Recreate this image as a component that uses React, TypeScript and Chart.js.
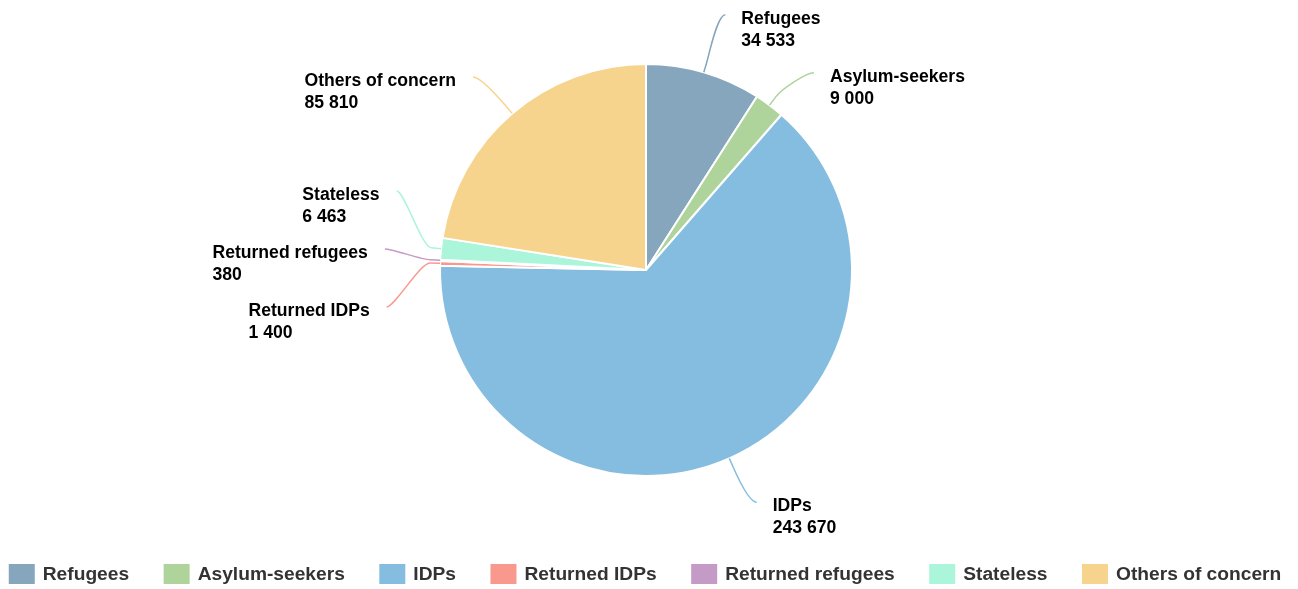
import React, { useEffect, useRef } from 'react';
import { Chart, registerables } from 'chart.js';

Chart.register(...registerables);

const categories = ['Refugees', 'Asylum-seekers', 'IDPs', 'Returned IDPs', 'Returned refugees', 'Stateless', 'Others of concern'];
const values = [34533, 9000, 243670, 1400, 380, 6463, 85810];
const colors = ['#85a6bd', '#aed49b', '#85bde0', '#f9998e', '#c49ac6', '#abf5da', '#f7d48e'];

const fmt = (v: number) => String(v).replace(/\B(?=(\d{3})+(?!\d))/g, ' ');

const FONT_FAMILY = '"Liberation Sans", Arial, Helvetica, sans-serif';
const LABEL_FONT = `bold 17.6px ${FONT_FAMILY}`;
const LEGEND_FONT = `bold 19.2px ${FONT_FAMILY}`;
const LABEL_DISTANCE = 48;
const CONNECTOR_PAD = 8;
const LABEL_GAP = 58;
const LINE_H = 22;

const labelPlugin = {
  id: 'pieLabels',
  afterDatasetsDraw(chart: any) {
    const meta = chart.getDatasetMeta(0);
    const ctx: CanvasRenderingContext2D = chart.ctx;
    const ds = chart.data.datasets[0];
    const items = meta.data.map((arc: any, i: number) => {
      const p = arc.getProps(['x', 'y', 'startAngle', 'endAngle', 'outerRadius'], true);
      const mid = (p.startAngle + p.endAngle) / 2;
      const cos = Math.cos(mid);
      const sin = Math.sin(mid);
      const R1 = p.outerRadius + LABEL_DISTANCE;
      return {
        i, cx: p.x, cy: p.y, r: p.outerRadius, cos, sin, left: cos < 0, R1,
        idealX: p.x + R1 * cos, idealY: p.y + R1 * sin, y: p.y + R1 * sin, x: 0, shifted: false,
      };
    });

    for (const side of [true, false]) {
      const list = items.filter((it: any) => it.left === side).sort((a: any, b: any) => a.idealY - b.idealY);
      if (!list.length) continue;
      let clusters = list.map((it: any) => ({ items: [it], center: it.idealY }));
      const place = (c: any) => {
        const n = c.items.length;
        c.items.forEach((it: any, k: number) => { it.y = c.center + (k - (n - 1) / 2) * LABEL_GAP; });
      };
      clusters.forEach(place);
      let changed = true;
      while (changed) {
        changed = false;
        for (let k = 0; k < clusters.length - 1; k++) {
          const a = clusters[k], b = clusters[k + 1];
          const aLast = a.items[a.items.length - 1].y;
          const bFirst = b.items[0].y;
          if (bFirst - aLast < LABEL_GAP - 0.01) {
            const merged = { items: [...a.items, ...b.items], center: 0 };
            const n = merged.items.length;
            merged.center = merged.items.reduce((s: number, it: any) => s + it.idealY, 0) / n - 2.8 * (n - 1);
            merged.items.forEach((it: any) => { it.shifted = true; });
            place(merged);
            clusters.splice(k, 2, merged);
            changed = true;
            break;
          }
        }
      }
      const dir = side ? -1 : 1;
      list.forEach((it: any) => {
        const dy = it.y - it.cy;
        let dx = Math.abs(it.idealX - it.cx);
        if (it.shifted && Math.abs(dy) < it.R1) {
          dx = Math.sqrt(it.R1 * it.R1 - dy * dy);
        }
        it.x = it.cx + dir * (dx + CONNECTOR_PAD);
      });
    }

    ctx.save();
    items.forEach((it: any) => {
      const color = ds.backgroundColor[it.i];
      const tx = it.cx + it.r * it.cos;
      const ty = it.cy + it.r * it.sin;
      const bx = it.cx + (it.r + 10) * it.cos;
      const by = it.cy + (it.r + 10) * it.sin;
      ctx.beginPath();
      ctx.moveTo(it.x, it.y);
      ctx.bezierCurveTo(it.x + (it.left ? 8 : -8), it.y, 2 * bx - tx, 2 * by - ty, bx, by);
      ctx.lineTo(tx, ty);
      ctx.strokeStyle = color;
      ctx.lineWidth = 1.5;
      ctx.stroke();

      const lines = [chart.data.labels[it.i], fmt(ds.data[it.i])];
      ctx.font = LABEL_FONT;
      ctx.fillStyle = '#000000';
      ctx.textBaseline = 'middle';
      ctx.textAlign = 'left';
      const w = Math.max(...lines.map((l: string) => ctx.measureText(l).width));
      const textX = it.left ? it.x - 17 - w : it.x + 16;
      lines.forEach((l: string, k: number) => {
        ctx.fillText(l, textX, it.y + 4 + k * LINE_H);
      });
    });
    ctx.restore();
  },
};

const legendPlugin = {
  id: 'customLegend',
  afterDraw(chart: any) {
    const ctx: CanvasRenderingContext2D = chart.ctx;
    const ds = chart.data.datasets[0];
    const labels: string[] = chart.data.labels;
    const boxW = 26, boxH = 20, textGap = 8, itemGap = 34.5;
    ctx.save();
    ctx.font = LEGEND_FONT;
    const widths = labels.map((l) => boxW + textGap + ctx.measureText(l).width);
    const total = widths.reduce((s, w) => s + w, 0) + itemGap * (labels.length - 1);
    const centerX = (chart.chartArea.left + chart.chartArea.right) / 2;
    let x = centerX - total / 2 - 1;
    const boxTop = 564;
    labels.forEach((l, i) => {
      ctx.fillStyle = ds.backgroundColor[i];
      ctx.fillRect(x, boxTop, boxW, boxH);
      ctx.fillStyle = '#333333';
      ctx.textBaseline = 'middle';
      ctx.textAlign = 'left';
      ctx.fillText(l, x + boxW + textGap, boxTop + boxH / 2 + 1);
      x += widths[i] + itemGap;
    });
    ctx.restore();
  },
};

export default function App() {
  const ref = useRef<HTMLCanvasElement>(null);
  useEffect(() => {
    const chart = new Chart(ref.current as HTMLCanvasElement, {
      type: 'pie',
      data: {
        labels: categories,
        datasets: [
          {
            data: values,
            backgroundColor: colors,
            borderColor: '#ffffff',
            borderWidth: 2,
            radius: 206,
          } as any,
        ],
      },
      options: {
        responsive: false,
        animation: false,
        events: [],
        radius: 206,
        layout: { padding: { left: 0, right: 6, top: 0, bottom: 49 } },
        plugins: { legend: { display: false }, tooltip: { enabled: false } },
      } as any,
      plugins: [labelPlugin, legendPlugin],
    });
    return () => chart.destroy();
  }, []);
  return (
    <div style={{ position: 'absolute', left: 0, top: 0, width: 1298, height: 589, background: '#ffffff' }}>
      <canvas ref={ref} width={1298} height={589} style={{ display: 'block' }} />
    </div>
  );
}
